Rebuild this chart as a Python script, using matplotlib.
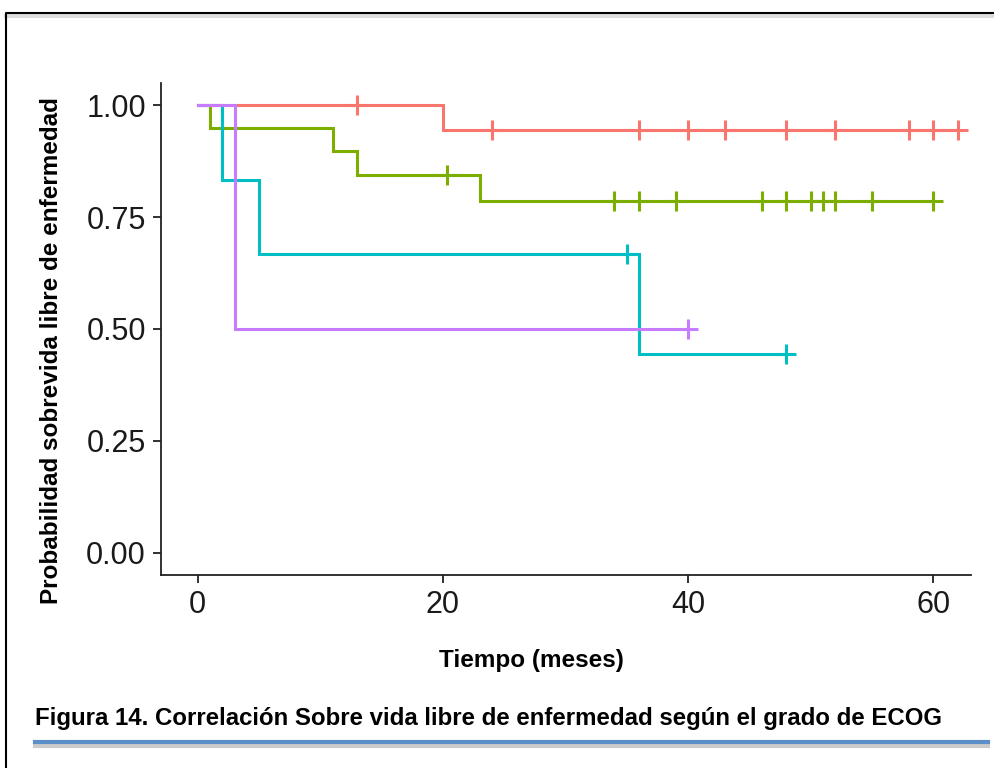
import matplotlib.pyplot as plt
from matplotlib.lines import Line2D

# Kaplan-Meier curves by ECOG grade
red_t = [0, 20, 62]
red_s = [1.0, 0.944, 0.944]
red_cens = [13, 24, 36, 40, 43, 48, 52, 58, 60, 62]

green_t = [0, 1, 11, 13, 23, 60]
green_s = [1.0, 0.95, 0.897, 0.845, 0.787, 0.787]
green_cens = [20.3, 34, 36, 39, 46, 48, 50, 51, 52, 55, 60]

cyan_t = [0, 2, 5, 36, 48]
cyan_s = [1.0, 0.833, 0.667, 0.444, 0.444]
cyan_cens = [35, 48]

purple_t = [0, 3, 40]
purple_s = [1.0, 0.5, 0.5]
purple_cens = [40]

xticks = [0, 20, 40, 60]
yticks = [0.00, 0.25, 0.50, 0.75, 1.00]

colors = ['#F8766D', '#7CAE00', '#00BFC4', '#C77CFF']

plt.rcParams['font.family'] = ['Liberation Sans', 'DejaVu Sans']

fig = plt.figure(figsize=(9.94, 7.68), dpi=100)
ax = fig.add_axes([0.162, 0.2513, 0.815, 0.6407])


def surv_at(ts, ss, x):
    val = ss[0]
    for t, s in zip(ts, ss):
        if t <= x:
            val = s
    return val


groups = [(red_t, red_s, red_cens), (green_t, green_s, green_cens),
          (cyan_t, cyan_s, cyan_cens), (purple_t, purple_s, purple_cens)]
for (ts, ss, cens), col in zip(groups, colors):
    ax.step(ts, ss, where='post', color=col, lw=2.2, solid_joinstyle='miter')
    ax.plot(cens, [surv_at(ts, ss, c) for c in cens], ls='none', marker='+',
            ms=15, mew=2.2, color=col)

ax.set_xlim(-3.0, 63.1)
ax.set_ylim(-0.05, 1.05)
ax.set_xticks(xticks)
ax.set_yticks(yticks)
ax.set_yticklabels([f'{v:.2f}' for v in yticks])
for s in ['top', 'right']:
    ax.spines[s].set_visible(False)
for s in ['left', 'bottom']:
    ax.spines[s].set_linewidth(1.3)
    ax.spines[s].set_color('#222222')
ax.tick_params(length=6, width=1.3, color='#222222', labelsize=22,
               labelcolor='#1a1a1a', pad=5)

ax.set_xlabel('Tiempo (meses)', fontsize=17.5, fontweight='bold')
ax.xaxis.set_label_coords(0.457, -0.151)
ax.set_ylabel('Probabilidad sobrevida libre de enfermedad', fontsize=17.5,
              fontweight='bold')
ax.yaxis.set_label_coords(-0.121, 0.457)

# caption and decoration of the page
fig.text(35 / 994, 1 - 718 / 768, 'Figura 14. Correlación Sobre vida libre de enfermedad según el grado de ECOG',
         fontsize=17.3, fontweight='bold', va='center', ha='left')

fig.add_artist(Line2D([35 / 994, 988 / 994], [1 - 746 / 768, 1 - 746 / 768],
                      color='#cccccc', lw=3))
fig.add_artist(Line2D([35 / 994, 988 / 994], [1 - 742 / 768, 1 - 742 / 768],
                      color='#5B8FC8', lw=3))
fig.add_artist(Line2D([6 / 994, 1.0], [1 - 16 / 768, 1 - 16 / 768], color='#dddddd', lw=3))
fig.add_artist(Line2D([6 / 994, 6 / 994, 1.0], [0, 1 - 13 / 768, 1 - 13 / 768],
                      color='black', lw=1.5))

fig.savefig('out.png', dpi=100)
